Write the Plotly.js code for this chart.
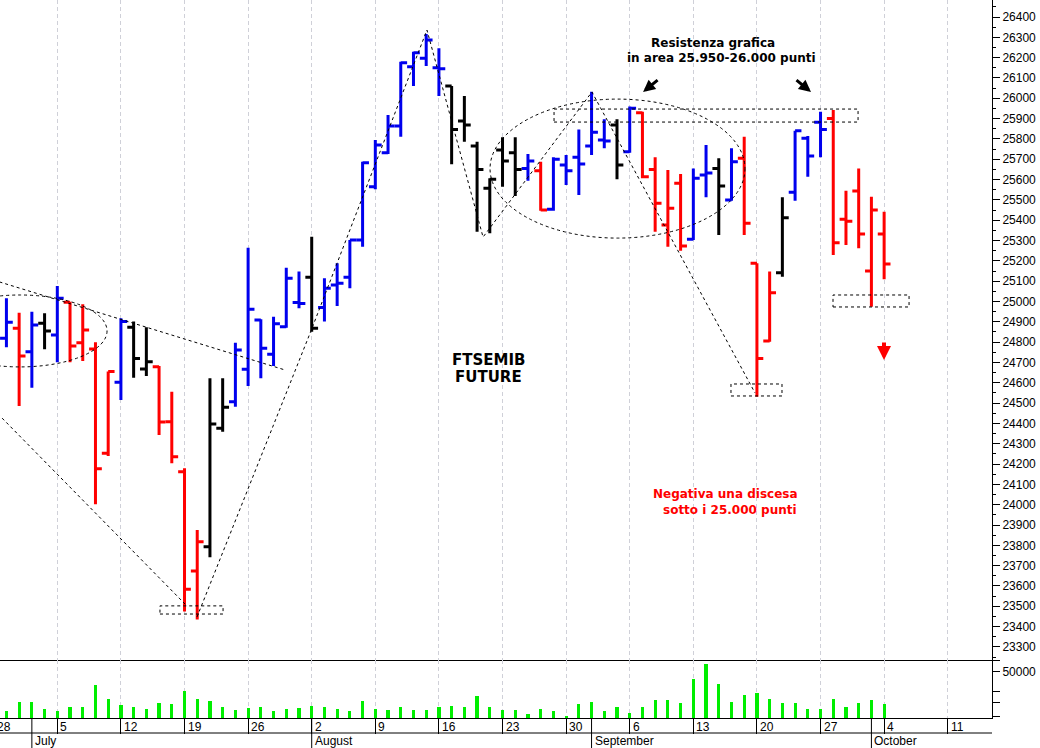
<!DOCTYPE html>
<html><head><meta charset="utf-8">
<script src="https://cdn.plot.ly/plotly-3.0.1.min.js"></script>
<style>html,body{margin:0;padding:0;background:#fff}#chart{width:1040px;height:748px}</style>
</head><body><div id="chart"></div>
<script>
// ---------------- DATA ----------------
const dates = ['2021-06-29','2021-06-30','2021-07-01','2021-07-02',
 '2021-07-05','2021-07-06','2021-07-07','2021-07-08','2021-07-09',
 '2021-07-12','2021-07-13','2021-07-14','2021-07-15','2021-07-16',
 '2021-07-19','2021-07-20','2021-07-21','2021-07-22','2021-07-23',
 '2021-07-26','2021-07-27','2021-07-28','2021-07-29','2021-07-30',
 '2021-08-02','2021-08-03','2021-08-04','2021-08-05','2021-08-06',
 '2021-08-09','2021-08-10','2021-08-11','2021-08-12','2021-08-13',
 '2021-08-16','2021-08-17','2021-08-18','2021-08-19','2021-08-20',
 '2021-08-23','2021-08-24','2021-08-25','2021-08-26','2021-08-27',
 '2021-08-30','2021-08-31','2021-09-01','2021-09-02','2021-09-03',
 '2021-09-06','2021-09-07','2021-09-08','2021-09-09','2021-09-10',
 '2021-09-13','2021-09-14','2021-09-15','2021-09-16','2021-09-17',
 '2021-09-20','2021-09-21','2021-09-22','2021-09-23','2021-09-24',
 '2021-09-27','2021-09-28','2021-09-29','2021-09-30','2021-10-01',
 '2021-10-04'];
const openP = [24819,24868,24753,24893, 24835,24996,24797,24766,24253, 24602,24873,24668,24679,24408,
 24162,23674,23793,24376,24507, 24666,24909,24740,24876,24995, 25119,24971,25081,25119,25303,
 25565,25732,25864,26155,26197, 26150,26060,25888,25765,25557, 25746,25732,25655,25644,25454,
 25672,25710,25765,25795,25869, 25737,25929,25650,25376,25582, 25306,25622,25655,25499,25705,
 25188,24806,25142,25537,25803, 25882,25901,25405,25544,25150, 25332];
const highP = [25016,24945,24950,24942, 25076,24999,24986,24799,24655, 24917,24901,24873,24683,24556,
 24179,23876,24622,24622,24797, 25265,24913,24925,25166,25147, 25319,25114,25188,25303,25688,
 25795,25918,26180,26229,26316, 26246,26060,26011,25786,25606, 25808,25808,25726,25688,25710,
 25721,25847,26032,25897,25897, 25959,25934,25710,25647,25627, 25655,25770,25705,25754,25811,
 25188,25147,25513,25840,25814, 25934,25942,25545,25655,25516, 25442];
const lowP = [24775,24486,24576,24765, 24701,24701,24707,24002,24240, 24515,24625,24633,24343,24204,
 23474,23435,23741,24359,24482, 24584,24622,24683,24871,24967, 24851,24901,24978,25065,25270,
 25552,25726,25811,26060,26159, 26011,25675,25786,25343,25336, 25565,25519,25594,25447,25447,
 25573,25524,25721,25754,25601, 25732,25606,25343,25270,25250, 25303,25513,25327,25496,25327,
 24531,24802,25122,25496,25614, 25710,25229,25278,25262,24974, 25109];
const closeP = [24898,24732,24884,24855, 25016,24781,24860,24177,24655, 24901,24720,24704,24407,24236,
 23584,23818,24397,24479,24761, 24962,24770,24890,25114,24990, 24868,25065,25090,25303,25683,
 25770,25864,26175,26224,26287, 26145,25847,25869,25650,25601, 25691,25650,25691,25450,25700,
 25644,25677,25833,25790,25672, 25951,25614,25483,25459,25273, 25606,25632,25568,25688,25385,
 24720,25043,25412,25840,25716, 25847,25289,25395,25332,25450, 25185];
// b = blue, r = red, k = black
const barColor = ['b','r','b','k', 'b','r','r','r','r', 'b','k','k','r','r',
 'r','r','k','k','b', 'b','b','b','b','b', 'k','b','b','b','b',
 'b','b','b','b','b', 'b','k','k','k','k', 'k','k','b','r','b',
 'b','b','b','b','k', 'b','r','r','r','r', 'b','b','k','b','r',
 'r','r','k','b','b', 'b','r','r','r','r', 'r'];
const volume = [7100,17200,17200,9700,7100,12400,12400,35700,20700,14300,
 11800,10000,16100,15300,29300,20400,18600,12400,8600,11000,
 12400,7100,9700,10700,13200,11800,10000,7100,18600,9700,
 8900,11800,8900,8200,11800,13200,11800,23200,11800,8200,
 8200,4300,9700,7100,1700,15000,17200,7100,11800,5400,
 11800,19600,19600,16100,42200,57900,36800,17200,25000,26800,
 20700,16100,16100,9700,9700,20700,12400,15800,19600,15000];

const weekTickDates = ['2021-06-28','2021-07-05','2021-07-12','2021-07-19','2021-07-26','2021-08-02',
 '2021-08-09','2021-08-16','2021-08-23','2021-08-30','2021-09-06','2021-09-13','2021-09-20',
 '2021-09-27','2021-10-04','2021-10-11'];
const weekTickLabels = ['28','5','12','19','26','2','9','16','23','30','6','13','20','27','4','11'];
const monthStartDates = ['2021-07-01','2021-08-02','2021-09-01','2021-10-01'];
const monthLabels = ['July','August','September','October'];
const volTickVals = [1400,16400,28200,50000,62400];
const volTickText = ['','','','50000',''];

// ---------------- AXIS SCAFFOLDING ----------------
function buildCalendar(start, end){
  const out=[]; let t=Date.parse(start+'T00:00:00Z'); const e=Date.parse(end+'T00:00:00Z');
  while(t<=e){ const d=new Date(t); const w=d.getUTCDay(); if(w>0&&w<6) out.push(d.toISOString().slice(0,10)); t+=86400000; }
  return out;
}
const calendar = buildCalendar('2021-06-28','2021-10-29');
const pos = s => calendar.indexOf(s);
const XR = [0.495, 78.48];
const paperX = i => (i-XR[0])/(XR[1]-XR[0]);

const COL = {b:'#0000ee', r:'#ff0000', k:'#000000'};
const traces = ['b','r','k'].map(c=>{
  const ids = dates.map((d,i)=>i).filter(i=>barColor[i]===c);
  return {type:'ohlc', x:ids.map(i=>pos(dates[i])), open:ids.map(i=>openP[i]), high:ids.map(i=>highP[i]),
    low:ids.map(i=>lowP[i]), close:ids.map(i=>closeP[i]),
    increasing:{line:{color:COL[c],width:3}}, decreasing:{line:{color:COL[c],width:3}},
    tickwidth:0.5, xaxis:'x', yaxis:'y', hoverinfo:'skip', showlegend:false};
});
traces.push({type:'bar', x:dates.map(pos), y:volume, width:0.25, marker:{color:'#00ee00',line:{width:0}},
  xaxis:'x2', yaxis:'y2', hoverinfo:'skip', showlegend:false});

// ---------------- HAND-DRAWN OVERLAYS (x in trading-day units, y in price) ----------------
const dashLine = {color:'#000', width:1, dash:'3px,3px'};
const overlayPaths = [
  [[0.0,25105],[22.9,24663]],
  [[0.0,24468],[15.12,23506]],
  [[15.98,23447],[24.94,24855],[34.06,26336],[38.47,25317],[47.03,26031],[59.85,24550]]
];
const overlayEllipses = [[-4.77,8.91,24678,25032],[39.02,59.06,25312,25996]];
const overlayRects = [[13.07,18.03,23462,23502],[44.05,67.95,25883,25947],[65.98,71.96,24973,25032],[57.96,61.97,24535,24594]];

const shapes = [];
overlayPaths.forEach(p=>shapes.push({type:'path', xref:'x', yref:'y', path:p.map((q,k)=>(k?'L':'M')+q[0]+','+q[1]).join(' '), line:dashLine}));
overlayEllipses.forEach(e=>shapes.push({type:'circle', xref:'x', yref:'y', x0:e[0], x1:e[1], y0:e[2], y1:e[3], line:dashLine}));
overlayRects.forEach(r=>shapes.push({type:'rect', xref:'x', yref:'y', x0:r[0], x1:r[1], y0:r[2], y1:r[3], line:dashLine}));
// month separators and date-row divider
monthStartDates.forEach(d=>shapes.push({type:'line', xref:'x2', yref:'paper', x0:pos(d), x1:pos(d), y0:0, y1:-30/718, line:{color:'#000',width:1}}));
shapes.push({type:'line', xref:'paper', yref:'paper', x0:0, x1:1, y0:-15/718, y1:-15/718, line:{color:'#000',width:1}});

const txtFont = (s,c)=>({family:'DejaVu Sans, Verdana, sans-serif', size:s, color:c});
const annotations = [];
weekTickDates.forEach((d,k)=>annotations.push({xref:'paper', yref:'paper', x:paperX(pos(d)), y:-9/718, xanchor:'left', yanchor:'middle',
  xshift:1, text:weekTickLabels[k], showarrow:false, font:{family:'Liberation Sans, Arial, sans-serif', size:12, color:'#000'}}));
monthStartDates.forEach((d,k)=>annotations.push({xref:'paper', yref:'paper', x:paperX(pos(d)), y:-23/718, xanchor:'left', yanchor:'middle',
  xshift:1, text:monthLabels[k], showarrow:false, font:{family:'Liberation Sans, Arial, sans-serif', size:12, color:'#000'}}));
const notes = [
  ['<b>Resistenza grafica</b>', 56.55, 26272, 12, '#000'],
  ['<b>in area 25.950-26.000 punti</b>', 57.25, 26198, 12, '#000'],
  ['<b>FTSEMIB</b>', 38.86, 24712, 15, '#000'],
  ['<b>FUTURE</b>', 38.88, 24628, 15, '#000'],
  ['<b>Negativa una discesa</b>', 57.53, 24053, 12, '#ff0000'],
  ['<b>sotto i 25.000 punti</b>', 57.88, 23974, 12, '#ff0000']
];
notes.forEach(n=>annotations.push({xref:'x', yref:'y', x:n[1], y:n[2], text:n[0], showarrow:false, xanchor:'center', yanchor:'middle', font:txtFont(n[3],n[4])}));
// arrows: tip (x, price), tail offset in px, colour, shaft width, head scale
const arrows = [[51.05,26031,16,-13,'#000',3,0.8],[64.25,26031,-16,-13,'#000',3,0.8],[69.99,24712,0,-19,'#ff0000',4,0.7]];
arrows.forEach(a=>annotations.push({xref:'x', yref:'y', x:a[0], y:a[1], ax:a[2], ay:a[3], text:'', showarrow:true,
  arrowhead:2, arrowsize:a[6], arrowwidth:a[5], arrowcolor:a[4], standoff:0, startstandoff:0}));

const mondays = weekTickDates.map(pos);
const gridStyle = {showgrid:true, gridcolor:'#cfd0d8', griddash:'4px,3px', gridwidth:1};
const layout = {
  width:1040, height:748, margin:{l:0, r:48, t:0, b:30, pad:0},
  paper_bgcolor:'#fff', plot_bgcolor:'#fff', showlegend:false,
  font:{family:'Liberation Sans, Arial, sans-serif', size:12, color:'#000'},
  xaxis:Object.assign({domain:[0,1], anchor:'y', range:XR, tickmode:'array', tickvals:mondays, showticklabels:false,
    ticks:'', showline:true, linecolor:'#000', linewidth:1, zeroline:false, rangeslider:{visible:false}, fixedrange:true}, gridStyle),
  yaxis:{domain:[58/718,1], anchor:'x', side:'right', range:[23235.7,26483.7], dtick:100, tick0:0, tickformat:'d',
    ticks:'outside', ticklen:7, tickcolor:'#000', tickwidth:1, showline:true, linecolor:'#000', linewidth:1,
    showgrid:false, zeroline:false, tickfont:{size:12, color:'#000'},
    minor:{dtick:50, ticks:'outside', ticklen:3, tickcolor:'#000', showgrid:false}},
  xaxis2:Object.assign({domain:[0,1], anchor:'y2', range:XR, tickmode:'array', tickvals:mondays, showticklabels:false,
    ticks:'outside', ticklen:15, tickcolor:'#000', tickwidth:1, showline:true, linecolor:'#000', linewidth:1, zeroline:false}, gridStyle),
  yaxis2:{domain:[0,58/718], anchor:'x2', side:'right', range:[0,62560], tickmode:'array', tickvals:volTickVals, ticktext:volTickText,
    ticks:'outside', ticklen:7, tickcolor:'#000', showline:true, linecolor:'#000', linewidth:1, showgrid:false, zeroline:false,
    tickfont:{size:12, color:'#000'}},
  shapes:shapes, annotations:annotations, bargap:0
};
Plotly.newPlot('chart', traces, layout, {staticPlot:true, displayModeBar:false});
</script>
</body></html>
